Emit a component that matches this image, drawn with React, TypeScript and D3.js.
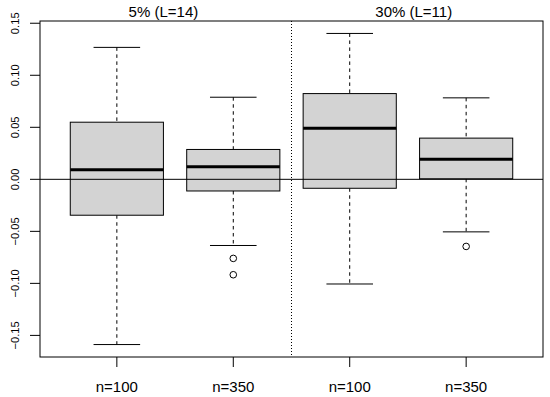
import * as d3 from "d3";

// sample labels and panel titles
const categories = ["n=100", "n=350", "n=100", "n=350"];
const panelTitles = ["5% (L=14)", "30% (L=11)"];
const panelTitleAt = [1.4, 3.55];
const dividerAt = [2.5];

// box statistics
const lowerWhisker = [-0.1588, -0.0636, -0.1006, -0.0505];
const q1 = [-0.0345, -0.0112, -0.0086, 0.0005];
const median = [0.0093, 0.0122, 0.0492, 0.0192];
const q3 = [0.0549, 0.0287, 0.0824, 0.0396];
const upperWhisker = [0.1268, 0.0789, 0.1402, 0.0783];
const outliers: number[][] = [[], [-0.076, -0.0917], [], [-0.0645]];

const yTicks = [-0.15, -0.1, -0.05, 0, 0.05, 0.1, 0.15];

const W = 550;
const H = 397;
const plot = { left: 40, right: 543, top: 21, bottom: 357 };
const font = "'Liberation Sans', Arial, Helvetica, sans-serif";

export default function App() {
  // R-style 4% axis expansion
  const xScale = d3
    .scaleLinear()
    .domain([0.34, categories.length + 0.66])
    .range([plot.left, plot.right]);

  const allVals = [...lowerWhisker, ...upperWhisker, ...outliers.flat()];
  const lo = d3.min(allVals) as number;
  const hi = d3.max(allVals) as number;
  const pad = (hi - lo) * 0.04;
  const yScale = d3
    .scaleLinear()
    .domain([lo - pad, hi + pad])
    .range([plot.bottom, plot.top]);

  const fmt = d3.format(".2f");
  const boxHalf = (xScale(1.4) - xScale(1)) as number;
  const capHalf = boxHalf / 2;

  return (
    <svg
      width={W}
      height={H}
      style={{ position: "absolute", left: 0, top: 0, background: "#fff" }}
      fontFamily={font}
    >
      {/* dotted panel divider */}
      {dividerAt.map((d, i) => (
        <line
          key={"div" + i}
          x1={xScale(d)}
          x2={xScale(d)}
          y1={plot.top}
          y2={plot.bottom}
          stroke="#000"
          strokeWidth={1}
          strokeDasharray="1,2"
        />
      ))}

      {categories.map((c, i) => {
        const cx = xScale(i + 1);
        return (
          <g key={"box" + i}>
            {/* whiskers */}
            <line
              x1={cx}
              x2={cx}
              y1={yScale(upperWhisker[i])}
              y2={yScale(q3[i])}
              stroke="#000"
              strokeDasharray="3.5,3.5"
            />
            <line
              x1={cx}
              x2={cx}
              y1={yScale(q1[i])}
              y2={yScale(lowerWhisker[i])}
              stroke="#000"
              strokeDasharray="3.5,3.5"
            />
            <line
              x1={cx - capHalf}
              x2={cx + capHalf}
              y1={yScale(upperWhisker[i])}
              y2={yScale(upperWhisker[i])}
              stroke="#000"
            />
            <line
              x1={cx - capHalf}
              x2={cx + capHalf}
              y1={yScale(lowerWhisker[i])}
              y2={yScale(lowerWhisker[i])}
              stroke="#000"
            />
            {/* box */}
            <rect
              x={cx - boxHalf}
              width={boxHalf * 2}
              y={yScale(q3[i])}
              height={yScale(q1[i]) - yScale(q3[i])}
              fill="#d3d3d3"
              stroke="#000"
              strokeWidth={1}
            />
            <line
              x1={cx - boxHalf}
              x2={cx + boxHalf}
              y1={yScale(median[i])}
              y2={yScale(median[i])}
              stroke="#000"
              strokeWidth={3}
            />
            {outliers[i].map((o, j) => (
              <circle
                key={j}
                cx={cx}
                cy={yScale(o)}
                r={3.3}
                fill="none"
                stroke="#000"
                strokeWidth={1}
              />
            ))}
          </g>
        );
      })}

      {/* zero reference line over the boxes */}
      <line
        x1={plot.left}
        x2={plot.right}
        y1={yScale(0)}
        y2={yScale(0)}
        stroke="#000"
        strokeWidth={1}
      />

      {/* frame */}
      <rect
        x={plot.left}
        y={plot.top}
        width={plot.right - plot.left}
        height={plot.bottom - plot.top}
        fill="none"
        stroke="#000"
        strokeWidth={1}
      />

      {/* y axis */}
      {yTicks.map((t) => (
        <g key={"yt" + t}>
          <line
            x1={plot.left - 10}
            x2={plot.left}
            y1={yScale(t)}
            y2={yScale(t)}
            stroke="#000"
          />
          <text
            transform={`translate(18.5,${yScale(t)}) rotate(-90)`}
            textAnchor="middle"
            fontSize={11.2}
            fill="#000"
          >
            {fmt(t)}
          </text>
        </g>
      ))}

      {/* x axis */}
      {categories.map((c, i) => (
        <g key={"xt" + i}>
          <line
            x1={xScale(i + 1)}
            x2={xScale(i + 1)}
            y1={plot.bottom}
            y2={plot.bottom + 10}
            stroke="#000"
          />
          <text
            x={xScale(i + 1)}
            y={391.5}
            textAnchor="middle"
            fontSize={15}
            fill="#000"
          >
            {c}
          </text>
        </g>
      ))}

      {/* panel titles */}
      {panelTitles.map((t, i) => (
        <text
          key={"pt" + i}
          x={xScale(panelTitleAt[i])}
          y={17.3}
          textAnchor="middle"
          fontSize={15}
          fill="#000"
        >
          {t}
        </text>
      ))}
    </svg>
  );
}
